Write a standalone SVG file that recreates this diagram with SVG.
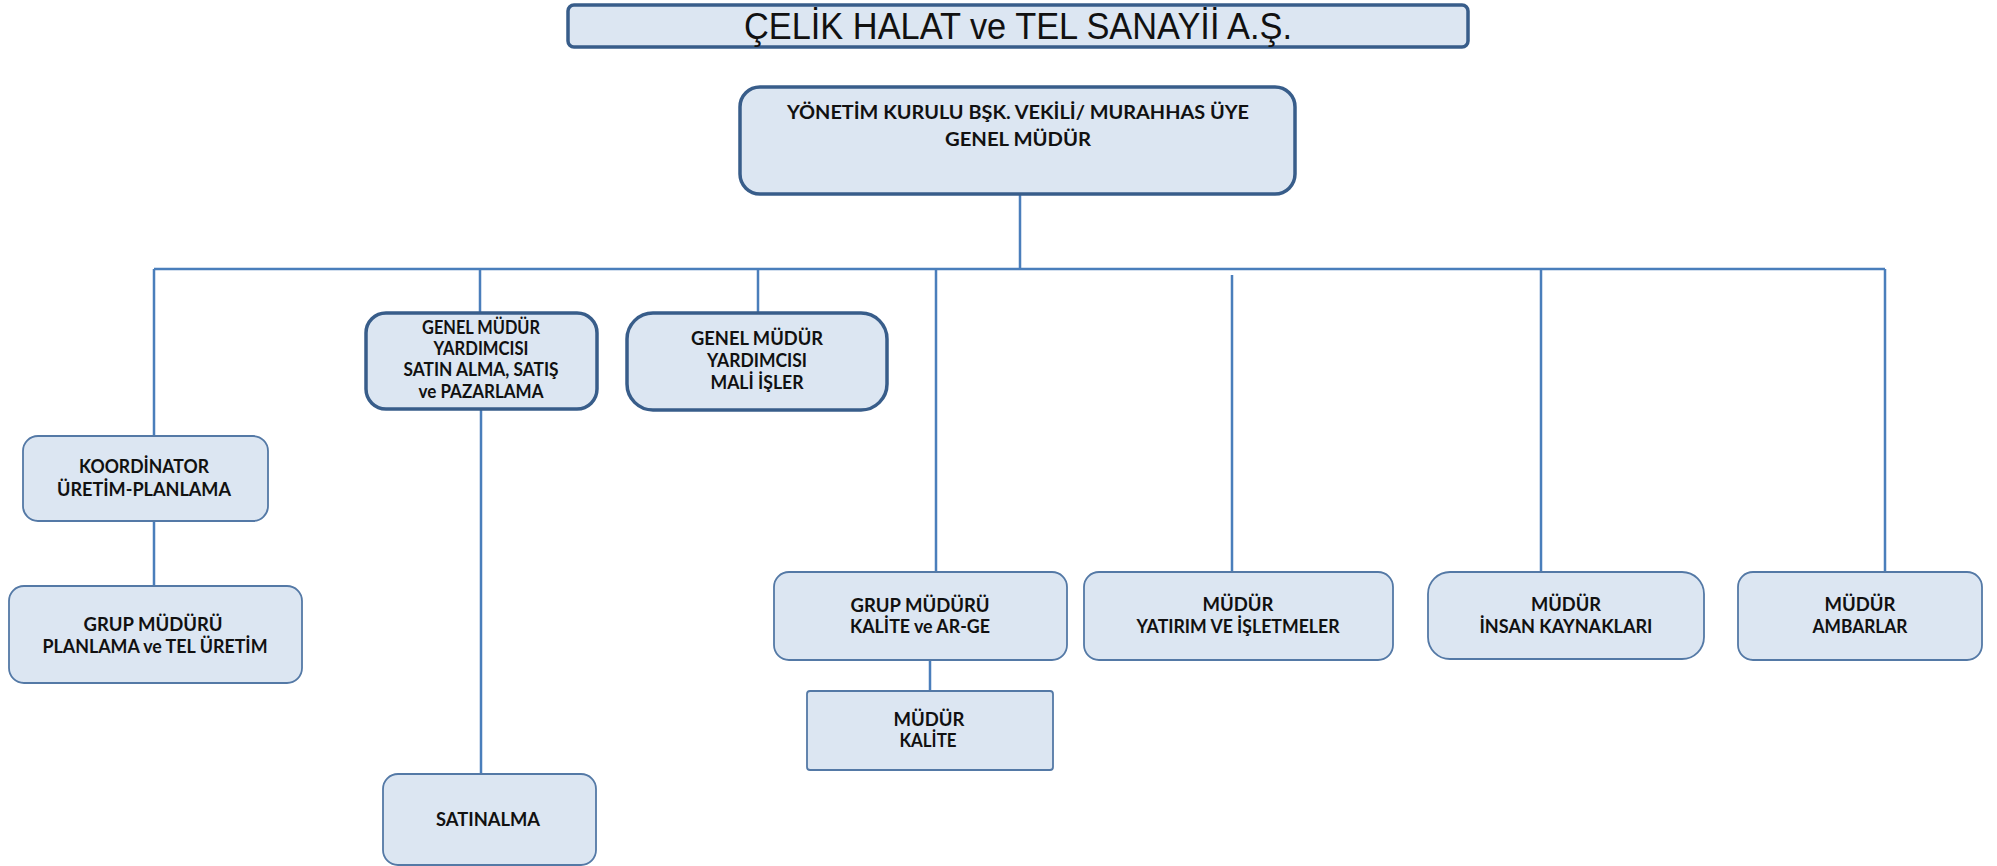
<svg xmlns="http://www.w3.org/2000/svg" width="1997" height="866" viewBox="0 0 1997 866">
<style>
.thick{fill:#DCE6F2;stroke:#385D8A;stroke-width:3.5}
.thin{fill:#DCE6F2;stroke:#5479A6;stroke-width:1.8}
.t{font-family:Lato,"Open Sans","Liberation Sans",sans-serif;font-weight:bold;font-size:18px;fill:#111;text-anchor:middle}
.title{font-family:"Liberation Sans",Arial,sans-serif;font-size:36px;fill:#111;text-anchor:middle}
.c{stroke:#4A7EBB;stroke-width:2.5;fill:none}
</style>
<rect width="1997" height="866" fill="#fff"/>
<g id="connectors">
<path class="c" d="M1020 194V269M154 269H1885M154 269V436M154 521V586M480 269V313M481 410V773M758 269V315M936 269V572M930 660V691M1232 275V572M1541 269V572M1885 269V572"/>
</g>
<g id="title">
<rect class="thick" x="568" y="5" width="900" height="42" rx="6"/>
<text class="title" x="1018" y="39" textLength="548" lengthAdjust="spacingAndGlyphs">ÇELİK HALAT ve TEL SANAYİİ A.Ş.</text>
</g>
<g id="genel-mudur">
<rect class="thick" x="740" y="87" width="555" height="107" rx="20"/>
<text class="t" x="1018" y="119" textLength="462" lengthAdjust="spacingAndGlyphs">YÖNETİM KURULU BŞK. VEKİLİ/ MURAHHAS ÜYE</text>
<text class="t" x="1018" y="146" textLength="146" lengthAdjust="spacingAndGlyphs">GENEL MÜDÜR</text>
</g>
<g id="gmy-satin">
<rect class="thick" x="366" y="313" width="231" height="96" rx="20"/>
<text class="t" x="481" y="334" font-size="16.5" textLength="118" lengthAdjust="spacingAndGlyphs">GENEL MÜDÜR</text>
<text class="t" x="481" y="355" font-size="16.5" textLength="95" lengthAdjust="spacingAndGlyphs">YARDIMCISI</text>
<text class="t" x="481" y="376" font-size="16.5" textLength="155" lengthAdjust="spacingAndGlyphs">SATIN ALMA, SATIŞ</text>
<text class="t" x="481" y="398" font-size="16.5" textLength="125" lengthAdjust="spacingAndGlyphs">ve PAZARLAMA</text>
</g>
<g id="gmy-mali">
<rect class="thick" x="627" y="313" width="260" height="97" rx="26"/>
<text class="t" x="757" y="345" textLength="132" lengthAdjust="spacingAndGlyphs">GENEL MÜDÜR</text>
<text class="t" x="757" y="367" textLength="100" lengthAdjust="spacingAndGlyphs">YARDIMCISI</text>
<text class="t" x="757" y="389" textLength="93" lengthAdjust="spacingAndGlyphs">MALİ İŞLER</text>
</g>
<g id="koordinator">
<rect class="thin" x="23" y="436" width="245" height="85" rx="15"/>
<text class="t" x="144" y="473" textLength="130" lengthAdjust="spacingAndGlyphs">KOORDİNATOR</text>
<text class="t" x="144" y="496" textLength="174" lengthAdjust="spacingAndGlyphs">ÜRETİM-PLANLAMA</text>
</g>
<g id="grup-planlama">
<rect class="thin" x="9" y="586" width="293" height="97" rx="15"/>
<text class="t" x="153" y="631" textLength="139" lengthAdjust="spacingAndGlyphs">GRUP MÜDÜRÜ</text>
<text class="t" x="155" y="653" textLength="225" lengthAdjust="spacingAndGlyphs">PLANLAMA ve TEL ÜRETİM</text>
</g>
<g id="satinalma">
<rect class="thin" x="383" y="774" width="213" height="91" rx="15"/>
<text class="t" x="488" y="826" textLength="104" lengthAdjust="spacingAndGlyphs">SATINALMA</text>
</g>
<g id="grup-kalite">
<rect class="thin" x="774" y="572" width="293" height="88" rx="15"/>
<text class="t" x="920" y="612" textLength="139" lengthAdjust="spacingAndGlyphs">GRUP MÜDÜRÜ</text>
<text class="t" x="920" y="633" textLength="140" lengthAdjust="spacingAndGlyphs">KALİTE ve AR-GE</text>
</g>
<g id="mudur-kalite">
<rect class="thin" x="807" y="691" width="246" height="79" rx="3"/>
<text class="t" x="929" y="726" textLength="71" lengthAdjust="spacingAndGlyphs">MÜDÜR</text>
<text class="t" x="928" y="747" textLength="57" lengthAdjust="spacingAndGlyphs">KALİTE</text>
</g>
<g id="mudur-yatirim">
<rect class="thin" x="1084" y="572" width="309" height="88" rx="15"/>
<text class="t" x="1238" y="611" textLength="71" lengthAdjust="spacingAndGlyphs">MÜDÜR</text>
<text class="t" x="1238" y="633" textLength="203" lengthAdjust="spacingAndGlyphs">YATIRIM VE İŞLETMELER</text>
</g>
<g id="mudur-insan">
<rect class="thin" x="1428" y="572" width="276" height="87" rx="22"/>
<text class="t" x="1566" y="611" textLength="70" lengthAdjust="spacingAndGlyphs">MÜDÜR</text>
<text class="t" x="1566" y="633" textLength="173" lengthAdjust="spacingAndGlyphs">İNSAN KAYNAKLARI</text>
</g>
<g id="mudur-ambarlar">
<rect class="thin" x="1738" y="572" width="244" height="88" rx="15"/>
<text class="t" x="1860" y="611" textLength="71" lengthAdjust="spacingAndGlyphs">MÜDÜR</text>
<text class="t" x="1860" y="633" textLength="95" lengthAdjust="spacingAndGlyphs">AMBARLAR</text>
</g>
</svg>
